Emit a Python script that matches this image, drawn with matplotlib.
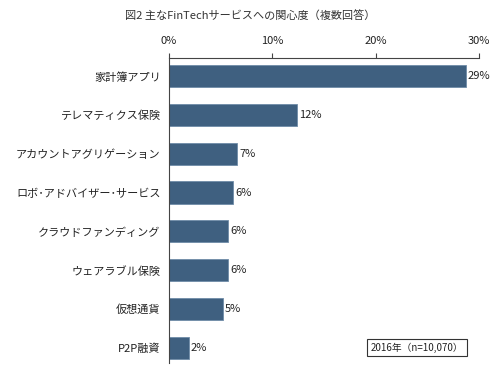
import matplotlib
matplotlib.use('Agg')
import matplotlib.pyplot as plt

plt.rcParams['font.family'] = ['Noto Sans CJK JP', 'DejaVu Sans']

categories = ['家計簿アプリ', 'テレマティクス保険', 'アカウントアグリゲーション',
              'ロボ･アドバイザー･サービス', 'クラウドファンディング', 'ウェアラブル保険',
              '仮想通貨', 'P2P融資']
values = [28.7, 12.4, 6.6, 6.2, 5.7, 5.7, 5.2, 1.9]
xticks = [0, 10, 20, 30]

BAR = '#3F6080'

fig = plt.figure(figsize=(5.0, 3.74), dpi=100)
ax = fig.add_axes([0.338, 0.029, 0.62, 0.816])

ypos = range(len(categories))
ax.barh(ypos, values, height=0.57, color=BAR, edgecolor='#6F8CA8', linewidth=0.6)
for y, v in zip(ypos, values):
    ax.text(v + 0.2, y, f'{v:.0f}%', va='center', ha='left', fontsize=8, color='#222222')

ax.set_xlim(0, 30)
ax.set_ylim(7.4, -0.47)
ax.set_yticks(list(ypos))
ax.set_yticklabels(categories, fontsize=8, color='#222222')
ax.set_xticks(xticks)
ax.set_xticklabels([f'{t}%' for t in xticks], fontsize=8, color='#222222')
ax.xaxis.tick_top()
ax.tick_params(axis='x', length=3.5, width=0.8, color='#444444', pad=5)
ax.tick_params(axis='y', length=0, pad=6)
for s in ['right', 'bottom']:
    ax.spines[s].set_visible(False)
for s in ['top', 'left']:
    ax.spines[s].set_color('#444444')
    ax.spines[s].set_linewidth(0.8)

fig.text(0.5, 0.958, '図2 主なFinTechサービスへの関心度（複数回答）', ha='center', va='center',
         fontsize=8, color='#333333')

fig.text(0.834, 0.07, '2016年（n=10,070）', ha='center', va='center', fontsize=7,
         color='#222222',
         bbox=dict(boxstyle='square,pad=0.35', facecolor='white', edgecolor='#333333', linewidth=0.8))

fig.savefig('out.png', dpi=100)
